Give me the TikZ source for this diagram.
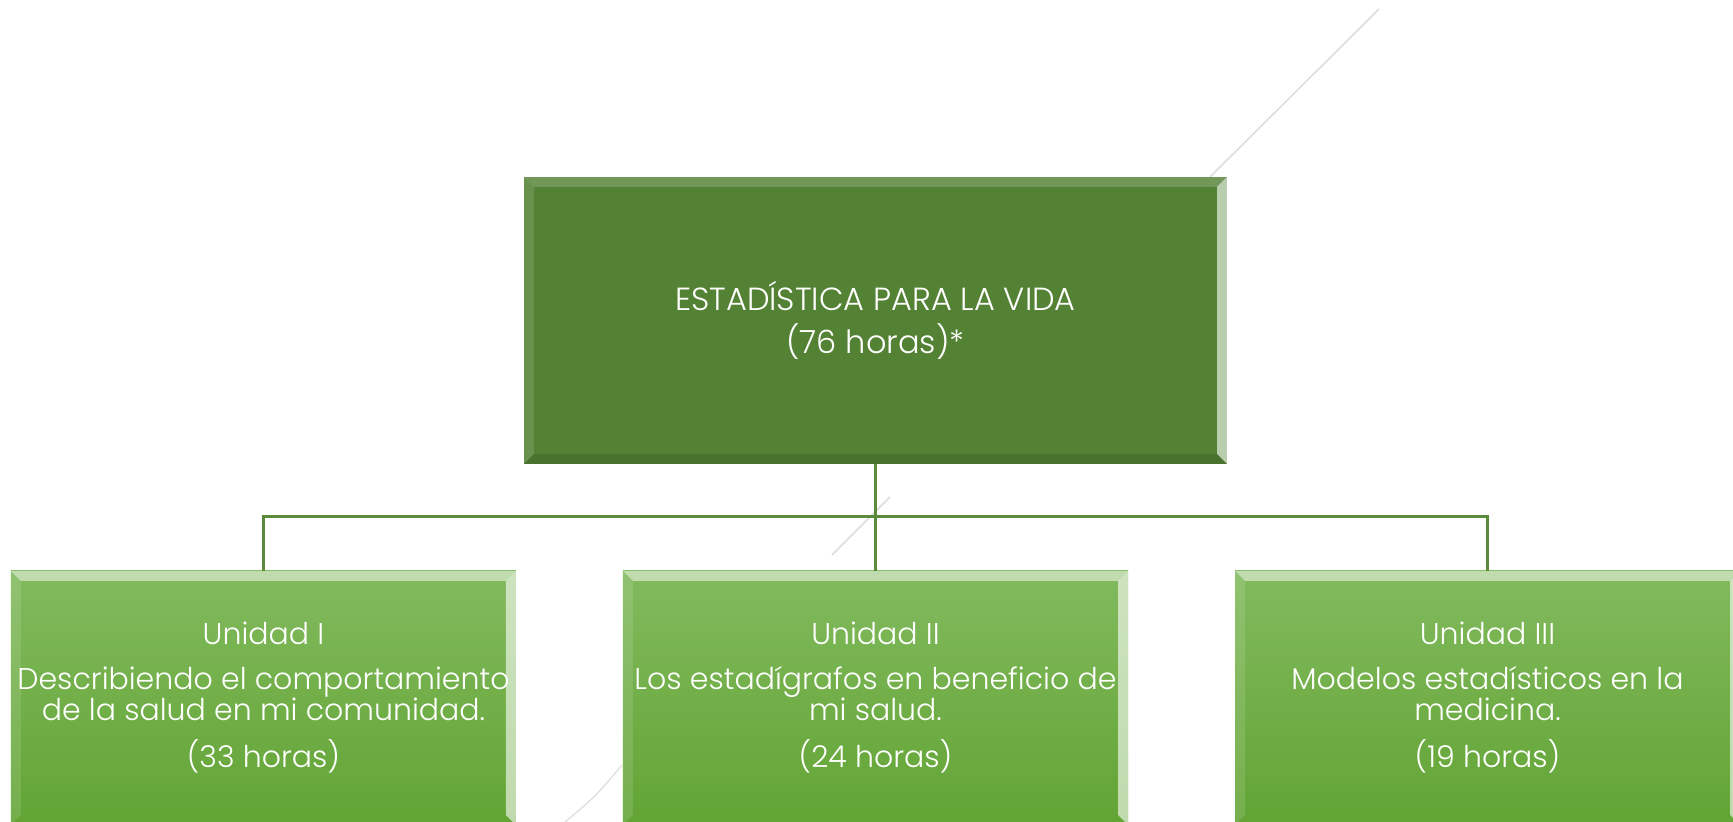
\documentclass[tikz,border=0pt]{standalone}
\usepackage{fontspec}
\setmainfont{Poppins Light}
\usetikzlibrary{positioning}

\definecolor{coursegreen}{HTML}{548235}
\definecolor{unittop}{HTML}{82BA5E}
\definecolor{unitbottom}{HTML}{62A434}
\definecolor{linegreen}{HTML}{5B8A3A}
\definecolor{traceline}{HTML}{DDDDDD}

\tikzset{
  bevel/.style 2 args = {path picture = {
      \coordinate (bnw) at (path picture bounding box.north west);
      \coordinate (bne) at (path picture bounding box.north east);
      \coordinate (bsw) at (path picture bounding box.south west);
      \coordinate (bse) at (path picture bounding box.south east);
      \fill[white, opacity=#1] (bnw) -- (bne) -- ([shift={(-5pt,-5pt)}]bne) -- ([shift={(5pt,-5pt)}]bnw) -- cycle;
      \fill[white, opacity=0.6] (bne) -- (bse) -- ([shift={(-5pt,5pt)}]bse) -- ([shift={(-5pt,-5pt)}]bne) -- cycle;
      \fill[white, opacity=0.12] (bnw) -- (bsw) -- ([shift={(5pt,5pt)}]bsw) -- ([shift={(5pt,-5pt)}]bnw) -- cycle;
      \fill[black, opacity=#2] (bsw) -- (bse) -- ([shift={(-5pt,5pt)}]bse) -- ([shift={(5pt,5pt)}]bsw) -- cycle;
    }},
  coursebox/.style = {fill=coursegreen, bevel={0.18}{0.12}, text=white, align=center,
      inner sep=0pt, minimum width=351.5pt, minimum height=143.5pt,
      font=\fontsize{16}{21.5}\selectfont},
  unitbox/.style = {top color=unittop, bottom color=unitbottom, bevel={0.5}{0}, text=white, align=center,
      inner sep=0pt, minimum width=252.5pt, minimum height=127pt,
      font=\fontsize{15}{15.5}\selectfont}
}

\begin{document}
\begin{tikzpicture}
      [
        level 1/.style = {sibling distance = 306pt, level distance = 188.75pt},
        edge from parent/.style = {draw=linegreen, line width=1.5pt},
        edge from parent path = {(\tikzparentnode.south) -- ++(0,-26pt) -| (\tikzchildnode.north)}
      ]

      \useasboundingbox (-437.75pt,-250.75pt) rectangle (428.75pt,160.25pt);

      % faint traces behind the boxes
      \draw[traceline, line width=0.8pt] (251.75pt,155.75pt) -- (167.25pt,71.75pt);
      \draw[traceline, line width=0.8pt] (7.25pt,-88.25pt) -- (-21.75pt,-117.25pt);
      \draw[traceline, line width=0.6pt] (-126.75pt,-222.25pt) .. controls (-140pt,-238pt) .. (-155.25pt,-250.75pt);

      \node[coursebox] (course) {ESTADÍSTICA PARA LA VIDA\\ (76 horas)*}
      child {
          node[unitbox] (unit1) {Unidad I\\[7pt] Describiendo el comportamiento\\ de la salud en mi comunidad.\\[8pt] (33 horas)}
        }
      child {
          node[unitbox] (unit2) {Unidad II\\[7pt] Los estadígrafos en beneficio de\\ mi salud.\\[8pt] (24 horas)}
        }
      child {
          node[unitbox] (unit3) {Unidad III\\[7pt] Modelos estadísticos en la\\ medicina.\\[8pt] (19 horas)}
        }
      ;

    \end{tikzpicture}
\end{document}
